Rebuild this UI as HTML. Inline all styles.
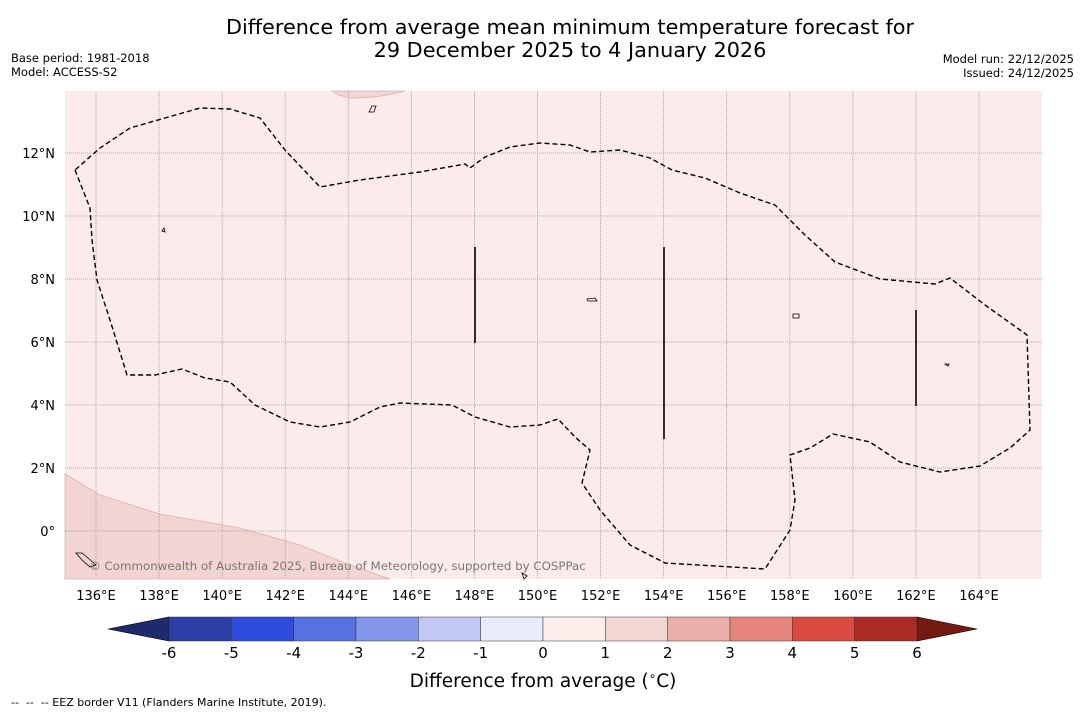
<!DOCTYPE html>
<html><head><meta charset="utf-8"><style>
body{margin:0;background:#fff;width:1085px;height:713px;overflow:hidden;font-family:"DejaVu Sans","Liberation Sans",sans-serif}
svg{display:block}
</style></head><body>
<svg width="1085" height="713" font-family="DejaVu Sans, Liberation Sans, sans-serif">
<text x="570" y="34" font-size="20.8" text-anchor="middle">Difference from average mean minimum temperature forecast for</text>
<text x="570" y="57" font-size="20.8" text-anchor="middle">29 December 2025 to 4 January 2026</text>
<text x="11" y="62" font-size="11.5">Base period: 1981-2018</text>
<text x="11" y="76" font-size="11.5">Model: ACCESS-S2</text>
<text x="1074" y="63" font-size="11.5" text-anchor="end">Model run: 22/12/2025</text>
<text x="1074" y="77" font-size="11.5" text-anchor="end">Issued: 24/12/2025</text>
<g id="map">
<rect x="65" y="91" width="977" height="488" fill="#fbebea"/>
<polygon points="65,474 100,495 160,514 240,528 300,545 350,565 390,579 65,579" fill="#f2d5d2" stroke="#d8b4b0" stroke-width="0.8"/>
<path d="M332,91 L405,91 Q380,98 350,98 Q338,96 332,91Z" fill="#f2d5d2" stroke="#d8b4b0" stroke-width="0.8"/>
<g id="grid"></g>
<polyline fill="none" stroke="#000" stroke-width="1.4" stroke-dasharray="5,3" points="75,170 90,208 92,240 97,280 110,320 127,375 155,375 182,369 205,378 230,382 255,405 290,422 320,427 350,422 380,407 400,403 452,405 475,417 510,427 540,425 558,419 575,437 590,450 582,483 600,510 630,545 665,563 765,569 790,530 795,500 790,455 810,448 833,434 870,442 900,462 940,472 980,466 1010,448 1030,430 1027,335 985,305 950,278 935,284 880,279 835,262 805,235 775,205 740,193 705,178 672,170 650,158 620,150 590,152 570,145 540,143 510,147 485,157 470,168 465,164 420,172 360,180 320,187 285,150 260,118 230,109 200,108 165,118 130,128 100,148 75,170"/>
<g stroke="#000" stroke-width="1.6">
<line x1="475" y1="247" x2="475" y2="343"/><line x1="664" y1="247" x2="664" y2="439"/><line x1="916" y1="310" x2="916" y2="406"/></g>
<g fill="none" stroke="#000" stroke-width="0.8">
<path d="M369,112 l3,-6 4,0 -2,6z"/><path d="M793,314 l6,0 0,4 -6,0z"/><path d="M587,299 l8,-1 2,3 -9,0z"/><path d="M162,231 l2,-3 1,4z"/><path d="M76,553 l6,0 6,5 8,7 -6,2 -8,-7z"/><path d="M945,364 l4,0 -1,2z"/><path d="M522,573 l5,3 -3,3z"/>
</g>
<text x="89" y="570" font-size="11.8" fill="#777">© Commonwealth of Australia 2025, Bureau of Meteorology, supported by COSPPac</text>
</g>
<g id="xticks" font-size="13"></g>
<g id="yticks" font-size="13"></g>
<g id="cbar"></g>
<text x="543" y="687" font-size="18.5" text-anchor="middle">Difference from average (<tspan font-size="12" dy="-7">∘</tspan><tspan dy="7">C)</tspan></text>
<text x="11" y="706" font-size="11" xml:space="preserve">--  --  -- EEZ border V11 (Flanders Marine Institute, 2019).</text>
</svg>
<script>
const lonTicks=[136,138,140,142,144,146,148,150,152,154,156,158,160,162,164];
const latTicks=[0,2,4,6,8,10,12];
const cbarLevels=[-6,-5,-4,-3,-2,-1,0,1,2,3,4,5,6];
const cbarColors=["#2a3ea6","#2e4ddc","#5571e2","#8496ea","#c1c8f2","#e9ebfb","#fdeeec","#f3d5d1","#ecaea8","#e6857d","#d94b40","#a92b23"];
const extendLow="#1d2a6e", extendHigh="#731a13";
const NS="http://www.w3.org/2000/svg";
const xOf=lon=>96+(lon-136)*(979-96)/28;
const yOf=lat=>531-lat*(531-153)/12;
const cx=v=>169+(v+6)*(917-169)/12;
function mk(t,a,p){const e=document.createElementNS(NS,t);for(const k in a)e.setAttribute(k,a[k]);p.appendChild(e);return e;}
const grid=document.getElementById('grid'),xt=document.getElementById('xticks'),yt=document.getElementById('yticks'),cb=document.getElementById('cbar');
lonTicks.forEach(l=>{const x=xOf(l);
const g=mk('line',{x1:x,y1:91,x2:x,y2:579,stroke:'#999','stroke-width':0.8,'stroke-dasharray':'1,1'},grid);


const t=mk('text',{x:x,y:600,'text-anchor':'middle'},xt);t.textContent=l+'°E';

});
latTicks.forEach(l=>{const y=yOf(l);
const g=mk('line',{x1:65,y1:y,x2:1042,y2:y,stroke:'#999','stroke-width':0.8,'stroke-dasharray':'1,1'},grid);


const t=mk('text',{x:55,y:y+5,'text-anchor':'end'},yt);t.textContent=l===0?'0°':l+'°N';

});
const y0=617,y1=641;
const lo=mk('polygon',{points:`${cx(-6)},${y0} ${cx(-6)},${y1} 108,629`,fill:extendLow,stroke:'#000','stroke-width':0.6},cb);


const hi=mk('polygon',{points:`${cx(6)},${y0} ${cx(6)},${y1} 977,629`,fill:extendHigh,stroke:'#000','stroke-width':0.6},cb);


cbarColors.forEach((c,i)=>{const r=mk('rect',{x:cx(cbarLevels[i]),y:y0,width:cx(cbarLevels[i+1])-cx(cbarLevels[i]),height:y1-y0,fill:c,stroke:'#333','stroke-width':0.5},cb);

});
cbarLevels.forEach(v=>{const t=mk('text',{x:cx(v),y:658,'text-anchor':'middle','font-size':15},cb);t.textContent=v;

});
</script>
</body></html>
